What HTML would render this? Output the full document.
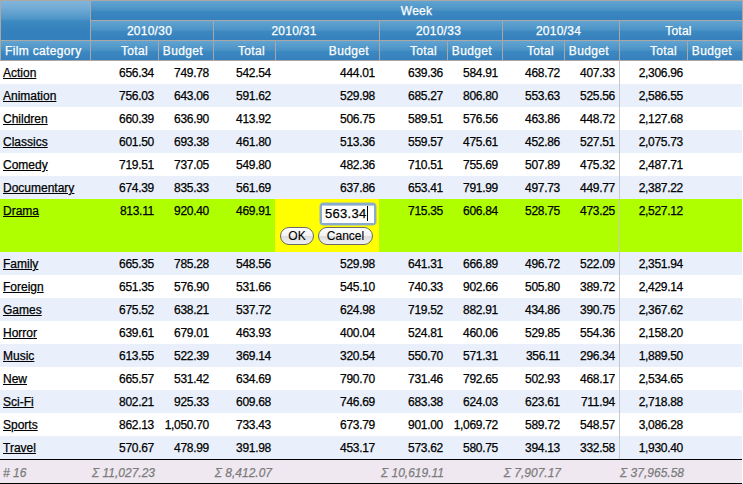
<!DOCTYPE html>
<html><head><meta charset="utf-8">
<style>
html,body{margin:0;padding:0;background:#fff;width:743px;height:484px;overflow:hidden}
body{position:relative;font-family:"Liberation Sans",sans-serif;font-size:12px;color:#000;-webkit-text-stroke:0.25px currentColor}
div{position:absolute;box-sizing:border-box}
.hc{position:absolute;left:5px;right:10px;top:1px;height:19px;line-height:19px;letter-spacing:0.25px;text-align:center;color:#fff}
.hl{position:absolute;left:4px;top:1px;height:19px;line-height:19px;letter-spacing:0.35px;color:#fff}
.hr{position:absolute;right:10px;top:1px;height:19px;line-height:19px;letter-spacing:0.35px;color:#fff;text-align:right}
.lk{position:absolute;left:0;top:1px;line-height:23px;color:#000;text-decoration:underline}
.num{position:absolute;right:4px;top:1px;line-height:23px;letter-spacing:-0.3px;white-space:nowrap}
.ft{position:absolute;left:0;top:2px;line-height:23px;color:#7c7c7c;font-style:italic}
.ftr{position:absolute;right:3px;top:2px;line-height:23px;color:#7c7c7c;font-style:italic;white-space:nowrap;letter-spacing:0px}
.inp{font-size:13px;line-height:18px;color:#000;letter-spacing:0.3px}
.btn{-webkit-text-stroke:0.1px currentColor;border:1px solid #6a6a66;border-radius:9px;background:linear-gradient(#ffffff 0%,#f2f2f2 50%,#dedede 51%,#f0f0f0 100%);font-size:12px;line-height:16px;text-align:center;color:#000}
</style></head><body>
<div style="left:0px;top:0px;width:743px;height:61px;background:#aba7a4"></div>
<div style="left:1px;top:1px;width:89px;height:39px;background:linear-gradient(to bottom,#82b5da 0px,#72abd5 7px,#4e95c8 18px,#3c88c0 20.5px,#3581bd 30px,#3380bc 39px)"></div>
<div style="left:91px;top:1px;width:651px;height:19px;background:linear-gradient(to bottom,#62a4d1 0px,#5a9ecd 3px,#4b93c6 9px,#3c88c0 10.5px,#3580bd 19px)"><span class='hc' style='left:0;right:0'>Week</span></div>
<div style="left:91px;top:21px;width:122px;height:19px;background:linear-gradient(to bottom,#62a4d1 0px,#5a9ecd 3px,#4b93c6 9px,#3c88c0 10.5px,#3580bd 19px)"><span class='hc'>2010/30</span></div>
<div style="left:214px;top:21px;width:165px;height:19px;background:linear-gradient(to bottom,#62a4d1 0px,#5a9ecd 3px,#4b93c6 9px,#3c88c0 10.5px,#3580bd 19px)"><span class='hc'>2010/31</span></div>
<div style="left:380px;top:21px;width:122px;height:19px;background:linear-gradient(to bottom,#62a4d1 0px,#5a9ecd 3px,#4b93c6 9px,#3c88c0 10.5px,#3580bd 19px)"><span class='hc'>2010/33</span></div>
<div style="left:503px;top:21px;width:116px;height:19px;background:linear-gradient(to bottom,#62a4d1 0px,#5a9ecd 3px,#4b93c6 9px,#3c88c0 10.5px,#3580bd 19px)"><span class='hc'>2010/34</span></div>
<div style="left:620px;top:21px;width:122px;height:19px;background:linear-gradient(to bottom,#62a4d1 0px,#5a9ecd 3px,#4b93c6 9px,#3c88c0 10.5px,#3580bd 19px)"><span class='hc'>Total</span></div>
<div style="left:1px;top:41px;width:89px;height:19px;background:linear-gradient(to bottom,#62a4d1 0px,#5a9ecd 3px,#4b93c6 9px,#3c88c0 10.5px,#3580bd 19px)"><span class='hl'>Film category</span></div>
<div style="left:91px;top:41px;width:67px;height:19px;background:linear-gradient(to bottom,#62a4d1 0px,#5a9ecd 3px,#4b93c6 9px,#3c88c0 10.5px,#3580bd 19px)"><span class='hr'>Total</span></div>
<div style="left:159px;top:41px;width:54px;height:19px;background:linear-gradient(to bottom,#62a4d1 0px,#5a9ecd 3px,#4b93c6 9px,#3c88c0 10.5px,#3580bd 19px)"><span class='hr'>Budget</span></div>
<div style="left:214px;top:41px;width:61px;height:19px;background:linear-gradient(to bottom,#62a4d1 0px,#5a9ecd 3px,#4b93c6 9px,#3c88c0 10.5px,#3580bd 19px)"><span class='hr'>Total</span></div>
<div style="left:276px;top:41px;width:103px;height:19px;background:linear-gradient(to bottom,#62a4d1 0px,#5a9ecd 3px,#4b93c6 9px,#3c88c0 10.5px,#3580bd 19px)"><span class='hr'>Budget</span></div>
<div style="left:380px;top:41px;width:67px;height:19px;background:linear-gradient(to bottom,#62a4d1 0px,#5a9ecd 3px,#4b93c6 9px,#3c88c0 10.5px,#3580bd 19px)"><span class='hr'>Total</span></div>
<div style="left:448px;top:41px;width:54px;height:19px;background:linear-gradient(to bottom,#62a4d1 0px,#5a9ecd 3px,#4b93c6 9px,#3c88c0 10.5px,#3580bd 19px)"><span class='hr'>Budget</span></div>
<div style="left:503px;top:41px;width:61px;height:19px;background:linear-gradient(to bottom,#62a4d1 0px,#5a9ecd 3px,#4b93c6 9px,#3c88c0 10.5px,#3580bd 19px)"><span class='hr'>Total</span></div>
<div style="left:565px;top:41px;width:54px;height:19px;background:linear-gradient(to bottom,#62a4d1 0px,#5a9ecd 3px,#4b93c6 9px,#3c88c0 10.5px,#3580bd 19px)"><span class='hr'>Budget</span></div>
<div style="left:620px;top:41px;width:67px;height:19px;background:linear-gradient(to bottom,#62a4d1 0px,#5a9ecd 3px,#4b93c6 9px,#3c88c0 10.5px,#3580bd 19px)"><span class='hr'>Total</span></div>
<div style="left:688px;top:41px;width:54px;height:19px;background:linear-gradient(to bottom,#62a4d1 0px,#5a9ecd 3px,#4b93c6 9px,#3c88c0 10.5px,#3580bd 19px)"><span class='hr'>Budget</span></div>
<div style="left:0px;top:61px;width:742px;height:23px;background:#ffffff"></div>
<div style="left:619px;top:61px;width:1px;height:23px;background:#c8c8c8"></div>
<div style="left:3px;top:61px;width:86px;height:23px;"><a class='lk'>Action</a></div>
<div style="left:91px;top:61px;width:67px;height:23px;"><span class='num'>656.34</span></div>
<div style="left:159px;top:61px;width:54px;height:23px;"><span class='num'>749.78</span></div>
<div style="left:214px;top:61px;width:61px;height:23px;"><span class='num'>542.54</span></div>
<div style="left:276px;top:61px;width:103px;height:23px;"><span class='num'>444.01</span></div>
<div style="left:380px;top:61px;width:67px;height:23px;"><span class='num'>639.36</span></div>
<div style="left:448px;top:61px;width:54px;height:23px;"><span class='num'>584.91</span></div>
<div style="left:503px;top:61px;width:61px;height:23px;"><span class='num'>468.72</span></div>
<div style="left:565px;top:61px;width:54px;height:23px;"><span class='num'>407.33</span></div>
<div style="left:620px;top:61px;width:67px;height:23px;"><span class='num'>2,306.96</span></div>
<div style="left:0px;top:84px;width:742px;height:23px;background:#e9f0fb"></div>
<div style="left:619px;top:84px;width:1px;height:23px;background:#c8c8c8"></div>
<div style="left:3px;top:84px;width:86px;height:23px;"><a class='lk'>Animation</a></div>
<div style="left:91px;top:84px;width:67px;height:23px;"><span class='num'>756.03</span></div>
<div style="left:159px;top:84px;width:54px;height:23px;"><span class='num'>643.06</span></div>
<div style="left:214px;top:84px;width:61px;height:23px;"><span class='num'>591.62</span></div>
<div style="left:276px;top:84px;width:103px;height:23px;"><span class='num'>529.98</span></div>
<div style="left:380px;top:84px;width:67px;height:23px;"><span class='num'>685.27</span></div>
<div style="left:448px;top:84px;width:54px;height:23px;"><span class='num'>806.80</span></div>
<div style="left:503px;top:84px;width:61px;height:23px;"><span class='num'>553.63</span></div>
<div style="left:565px;top:84px;width:54px;height:23px;"><span class='num'>525.56</span></div>
<div style="left:620px;top:84px;width:67px;height:23px;"><span class='num'>2,586.55</span></div>
<div style="left:0px;top:107px;width:742px;height:23px;background:#ffffff"></div>
<div style="left:619px;top:107px;width:1px;height:23px;background:#c8c8c8"></div>
<div style="left:3px;top:107px;width:86px;height:23px;"><a class='lk'>Children</a></div>
<div style="left:91px;top:107px;width:67px;height:23px;"><span class='num'>660.39</span></div>
<div style="left:159px;top:107px;width:54px;height:23px;"><span class='num'>636.90</span></div>
<div style="left:214px;top:107px;width:61px;height:23px;"><span class='num'>413.92</span></div>
<div style="left:276px;top:107px;width:103px;height:23px;"><span class='num'>506.75</span></div>
<div style="left:380px;top:107px;width:67px;height:23px;"><span class='num'>589.51</span></div>
<div style="left:448px;top:107px;width:54px;height:23px;"><span class='num'>576.56</span></div>
<div style="left:503px;top:107px;width:61px;height:23px;"><span class='num'>463.86</span></div>
<div style="left:565px;top:107px;width:54px;height:23px;"><span class='num'>448.72</span></div>
<div style="left:620px;top:107px;width:67px;height:23px;"><span class='num'>2,127.68</span></div>
<div style="left:0px;top:130px;width:742px;height:23px;background:#e9f0fb"></div>
<div style="left:619px;top:130px;width:1px;height:23px;background:#c8c8c8"></div>
<div style="left:3px;top:130px;width:86px;height:23px;"><a class='lk'>Classics</a></div>
<div style="left:91px;top:130px;width:67px;height:23px;"><span class='num'>601.50</span></div>
<div style="left:159px;top:130px;width:54px;height:23px;"><span class='num'>693.38</span></div>
<div style="left:214px;top:130px;width:61px;height:23px;"><span class='num'>461.80</span></div>
<div style="left:276px;top:130px;width:103px;height:23px;"><span class='num'>513.36</span></div>
<div style="left:380px;top:130px;width:67px;height:23px;"><span class='num'>559.57</span></div>
<div style="left:448px;top:130px;width:54px;height:23px;"><span class='num'>475.61</span></div>
<div style="left:503px;top:130px;width:61px;height:23px;"><span class='num'>452.86</span></div>
<div style="left:565px;top:130px;width:54px;height:23px;"><span class='num'>527.51</span></div>
<div style="left:620px;top:130px;width:67px;height:23px;"><span class='num'>2,075.73</span></div>
<div style="left:0px;top:153px;width:742px;height:23px;background:#ffffff"></div>
<div style="left:619px;top:153px;width:1px;height:23px;background:#c8c8c8"></div>
<div style="left:3px;top:153px;width:86px;height:23px;"><a class='lk'>Comedy</a></div>
<div style="left:91px;top:153px;width:67px;height:23px;"><span class='num'>719.51</span></div>
<div style="left:159px;top:153px;width:54px;height:23px;"><span class='num'>737.05</span></div>
<div style="left:214px;top:153px;width:61px;height:23px;"><span class='num'>549.80</span></div>
<div style="left:276px;top:153px;width:103px;height:23px;"><span class='num'>482.36</span></div>
<div style="left:380px;top:153px;width:67px;height:23px;"><span class='num'>710.51</span></div>
<div style="left:448px;top:153px;width:54px;height:23px;"><span class='num'>755.69</span></div>
<div style="left:503px;top:153px;width:61px;height:23px;"><span class='num'>507.89</span></div>
<div style="left:565px;top:153px;width:54px;height:23px;"><span class='num'>475.32</span></div>
<div style="left:620px;top:153px;width:67px;height:23px;"><span class='num'>2,487.71</span></div>
<div style="left:0px;top:176px;width:742px;height:23px;background:#e9f0fb"></div>
<div style="left:619px;top:176px;width:1px;height:23px;background:#c8c8c8"></div>
<div style="left:3px;top:176px;width:86px;height:23px;"><a class='lk'>Documentary</a></div>
<div style="left:91px;top:176px;width:67px;height:23px;"><span class='num'>674.39</span></div>
<div style="left:159px;top:176px;width:54px;height:23px;"><span class='num'>835.33</span></div>
<div style="left:214px;top:176px;width:61px;height:23px;"><span class='num'>561.69</span></div>
<div style="left:276px;top:176px;width:103px;height:23px;"><span class='num'>637.86</span></div>
<div style="left:380px;top:176px;width:67px;height:23px;"><span class='num'>653.41</span></div>
<div style="left:448px;top:176px;width:54px;height:23px;"><span class='num'>791.99</span></div>
<div style="left:503px;top:176px;width:61px;height:23px;"><span class='num'>497.73</span></div>
<div style="left:565px;top:176px;width:54px;height:23px;"><span class='num'>449.77</span></div>
<div style="left:620px;top:176px;width:67px;height:23px;"><span class='num'>2,387.22</span></div>
<div style="left:0px;top:199px;width:742px;height:53px;background:#b0ff00"></div>
<div style="left:275px;top:199px;width:104px;height:53px;background:#ffff00"></div>
<div style="left:619px;top:199px;width:1px;height:53px;background:#c8c8c8"></div>
<div style="left:3px;top:199px;width:86px;height:23px;"><a class='lk'>Drama</a></div>
<div style="left:91px;top:199px;width:67px;height:23px;"><span class='num'>813.11</span></div>
<div style="left:159px;top:199px;width:54px;height:23px;"><span class='num'>920.40</span></div>
<div style="left:214px;top:199px;width:61px;height:23px;"><span class='num'>469.91</span></div>
<div style="left:380px;top:199px;width:67px;height:23px;"><span class='num'>715.35</span></div>
<div style="left:448px;top:199px;width:54px;height:23px;"><span class='num'>606.84</span></div>
<div style="left:503px;top:199px;width:61px;height:23px;"><span class='num'>528.75</span></div>
<div style="left:565px;top:199px;width:54px;height:23px;"><span class='num'>473.25</span></div>
<div style="left:620px;top:199px;width:67px;height:23px;"><span class='num'>2,527.12</span></div>
<div style="left:0px;top:252px;width:742px;height:23px;background:#e9f0fb"></div>
<div style="left:619px;top:252px;width:1px;height:23px;background:#c8c8c8"></div>
<div style="left:3px;top:252px;width:86px;height:23px;"><a class='lk'>Family</a></div>
<div style="left:91px;top:252px;width:67px;height:23px;"><span class='num'>665.35</span></div>
<div style="left:159px;top:252px;width:54px;height:23px;"><span class='num'>785.28</span></div>
<div style="left:214px;top:252px;width:61px;height:23px;"><span class='num'>548.56</span></div>
<div style="left:276px;top:252px;width:103px;height:23px;"><span class='num'>529.98</span></div>
<div style="left:380px;top:252px;width:67px;height:23px;"><span class='num'>641.31</span></div>
<div style="left:448px;top:252px;width:54px;height:23px;"><span class='num'>666.89</span></div>
<div style="left:503px;top:252px;width:61px;height:23px;"><span class='num'>496.72</span></div>
<div style="left:565px;top:252px;width:54px;height:23px;"><span class='num'>522.09</span></div>
<div style="left:620px;top:252px;width:67px;height:23px;"><span class='num'>2,351.94</span></div>
<div style="left:0px;top:275px;width:742px;height:23px;background:#ffffff"></div>
<div style="left:619px;top:275px;width:1px;height:23px;background:#c8c8c8"></div>
<div style="left:3px;top:275px;width:86px;height:23px;"><a class='lk'>Foreign</a></div>
<div style="left:91px;top:275px;width:67px;height:23px;"><span class='num'>651.35</span></div>
<div style="left:159px;top:275px;width:54px;height:23px;"><span class='num'>576.90</span></div>
<div style="left:214px;top:275px;width:61px;height:23px;"><span class='num'>531.66</span></div>
<div style="left:276px;top:275px;width:103px;height:23px;"><span class='num'>545.10</span></div>
<div style="left:380px;top:275px;width:67px;height:23px;"><span class='num'>740.33</span></div>
<div style="left:448px;top:275px;width:54px;height:23px;"><span class='num'>902.66</span></div>
<div style="left:503px;top:275px;width:61px;height:23px;"><span class='num'>505.80</span></div>
<div style="left:565px;top:275px;width:54px;height:23px;"><span class='num'>389.72</span></div>
<div style="left:620px;top:275px;width:67px;height:23px;"><span class='num'>2,429.14</span></div>
<div style="left:0px;top:298px;width:742px;height:23px;background:#e9f0fb"></div>
<div style="left:619px;top:298px;width:1px;height:23px;background:#c8c8c8"></div>
<div style="left:3px;top:298px;width:86px;height:23px;"><a class='lk'>Games</a></div>
<div style="left:91px;top:298px;width:67px;height:23px;"><span class='num'>675.52</span></div>
<div style="left:159px;top:298px;width:54px;height:23px;"><span class='num'>638.21</span></div>
<div style="left:214px;top:298px;width:61px;height:23px;"><span class='num'>537.72</span></div>
<div style="left:276px;top:298px;width:103px;height:23px;"><span class='num'>624.98</span></div>
<div style="left:380px;top:298px;width:67px;height:23px;"><span class='num'>719.52</span></div>
<div style="left:448px;top:298px;width:54px;height:23px;"><span class='num'>882.91</span></div>
<div style="left:503px;top:298px;width:61px;height:23px;"><span class='num'>434.86</span></div>
<div style="left:565px;top:298px;width:54px;height:23px;"><span class='num'>390.75</span></div>
<div style="left:620px;top:298px;width:67px;height:23px;"><span class='num'>2,367.62</span></div>
<div style="left:0px;top:321px;width:742px;height:23px;background:#ffffff"></div>
<div style="left:619px;top:321px;width:1px;height:23px;background:#c8c8c8"></div>
<div style="left:3px;top:321px;width:86px;height:23px;"><a class='lk'>Horror</a></div>
<div style="left:91px;top:321px;width:67px;height:23px;"><span class='num'>639.61</span></div>
<div style="left:159px;top:321px;width:54px;height:23px;"><span class='num'>679.01</span></div>
<div style="left:214px;top:321px;width:61px;height:23px;"><span class='num'>463.93</span></div>
<div style="left:276px;top:321px;width:103px;height:23px;"><span class='num'>400.04</span></div>
<div style="left:380px;top:321px;width:67px;height:23px;"><span class='num'>524.81</span></div>
<div style="left:448px;top:321px;width:54px;height:23px;"><span class='num'>460.06</span></div>
<div style="left:503px;top:321px;width:61px;height:23px;"><span class='num'>529.85</span></div>
<div style="left:565px;top:321px;width:54px;height:23px;"><span class='num'>554.36</span></div>
<div style="left:620px;top:321px;width:67px;height:23px;"><span class='num'>2,158.20</span></div>
<div style="left:0px;top:344px;width:742px;height:23px;background:#e9f0fb"></div>
<div style="left:619px;top:344px;width:1px;height:23px;background:#c8c8c8"></div>
<div style="left:3px;top:344px;width:86px;height:23px;"><a class='lk'>Music</a></div>
<div style="left:91px;top:344px;width:67px;height:23px;"><span class='num'>613.55</span></div>
<div style="left:159px;top:344px;width:54px;height:23px;"><span class='num'>522.39</span></div>
<div style="left:214px;top:344px;width:61px;height:23px;"><span class='num'>369.14</span></div>
<div style="left:276px;top:344px;width:103px;height:23px;"><span class='num'>320.54</span></div>
<div style="left:380px;top:344px;width:67px;height:23px;"><span class='num'>550.70</span></div>
<div style="left:448px;top:344px;width:54px;height:23px;"><span class='num'>571.31</span></div>
<div style="left:503px;top:344px;width:61px;height:23px;"><span class='num'>356.11</span></div>
<div style="left:565px;top:344px;width:54px;height:23px;"><span class='num'>296.34</span></div>
<div style="left:620px;top:344px;width:67px;height:23px;"><span class='num'>1,889.50</span></div>
<div style="left:0px;top:367px;width:742px;height:23px;background:#ffffff"></div>
<div style="left:619px;top:367px;width:1px;height:23px;background:#c8c8c8"></div>
<div style="left:3px;top:367px;width:86px;height:23px;"><a class='lk'>New</a></div>
<div style="left:91px;top:367px;width:67px;height:23px;"><span class='num'>665.57</span></div>
<div style="left:159px;top:367px;width:54px;height:23px;"><span class='num'>531.42</span></div>
<div style="left:214px;top:367px;width:61px;height:23px;"><span class='num'>634.69</span></div>
<div style="left:276px;top:367px;width:103px;height:23px;"><span class='num'>790.70</span></div>
<div style="left:380px;top:367px;width:67px;height:23px;"><span class='num'>731.46</span></div>
<div style="left:448px;top:367px;width:54px;height:23px;"><span class='num'>792.65</span></div>
<div style="left:503px;top:367px;width:61px;height:23px;"><span class='num'>502.93</span></div>
<div style="left:565px;top:367px;width:54px;height:23px;"><span class='num'>468.17</span></div>
<div style="left:620px;top:367px;width:67px;height:23px;"><span class='num'>2,534.65</span></div>
<div style="left:0px;top:390px;width:742px;height:23px;background:#e9f0fb"></div>
<div style="left:619px;top:390px;width:1px;height:23px;background:#c8c8c8"></div>
<div style="left:3px;top:390px;width:86px;height:23px;"><a class='lk'>Sci-Fi</a></div>
<div style="left:91px;top:390px;width:67px;height:23px;"><span class='num'>802.21</span></div>
<div style="left:159px;top:390px;width:54px;height:23px;"><span class='num'>925.33</span></div>
<div style="left:214px;top:390px;width:61px;height:23px;"><span class='num'>609.68</span></div>
<div style="left:276px;top:390px;width:103px;height:23px;"><span class='num'>746.69</span></div>
<div style="left:380px;top:390px;width:67px;height:23px;"><span class='num'>683.38</span></div>
<div style="left:448px;top:390px;width:54px;height:23px;"><span class='num'>624.03</span></div>
<div style="left:503px;top:390px;width:61px;height:23px;"><span class='num'>623.61</span></div>
<div style="left:565px;top:390px;width:54px;height:23px;"><span class='num'>711.94</span></div>
<div style="left:620px;top:390px;width:67px;height:23px;"><span class='num'>2,718.88</span></div>
<div style="left:0px;top:413px;width:742px;height:23px;background:#ffffff"></div>
<div style="left:619px;top:413px;width:1px;height:23px;background:#c8c8c8"></div>
<div style="left:3px;top:413px;width:86px;height:23px;"><a class='lk'>Sports</a></div>
<div style="left:91px;top:413px;width:67px;height:23px;"><span class='num'>862.13</span></div>
<div style="left:159px;top:413px;width:54px;height:23px;"><span class='num'>1,050.70</span></div>
<div style="left:214px;top:413px;width:61px;height:23px;"><span class='num'>733.43</span></div>
<div style="left:276px;top:413px;width:103px;height:23px;"><span class='num'>673.79</span></div>
<div style="left:380px;top:413px;width:67px;height:23px;"><span class='num'>901.00</span></div>
<div style="left:448px;top:413px;width:54px;height:23px;"><span class='num'>1,069.72</span></div>
<div style="left:503px;top:413px;width:61px;height:23px;"><span class='num'>589.72</span></div>
<div style="left:565px;top:413px;width:54px;height:23px;"><span class='num'>548.57</span></div>
<div style="left:620px;top:413px;width:67px;height:23px;"><span class='num'>3,086.28</span></div>
<div style="left:0px;top:436px;width:742px;height:23px;background:#e9f0fb"></div>
<div style="left:619px;top:436px;width:1px;height:23px;background:#c8c8c8"></div>
<div style="left:3px;top:436px;width:86px;height:23px;"><a class='lk'>Travel</a></div>
<div style="left:91px;top:436px;width:67px;height:23px;"><span class='num'>570.67</span></div>
<div style="left:159px;top:436px;width:54px;height:23px;"><span class='num'>478.99</span></div>
<div style="left:214px;top:436px;width:61px;height:23px;"><span class='num'>391.98</span></div>
<div style="left:276px;top:436px;width:103px;height:23px;"><span class='num'>453.17</span></div>
<div style="left:380px;top:436px;width:67px;height:23px;"><span class='num'>573.62</span></div>
<div style="left:448px;top:436px;width:54px;height:23px;"><span class='num'>580.75</span></div>
<div style="left:503px;top:436px;width:61px;height:23px;"><span class='num'>394.13</span></div>
<div style="left:565px;top:436px;width:54px;height:23px;"><span class='num'>332.58</span></div>
<div style="left:620px;top:436px;width:67px;height:23px;"><span class='num'>1,930.40</span></div>
<div style="left:0px;top:459px;width:742px;height:1px;background:#000"></div>
<div style="left:0px;top:460px;width:742px;height:23px;background:#efe8f0"></div>
<div style="left:0px;top:483px;width:742px;height:1px;background:#000"></div>
<div style="left:3px;top:460px;width:80px;height:23px;"><span class='ft'># 16</span></div>
<div style="left:30px;top:460px;width:128px;height:23px;"><span class='ftr'>Σ 11,027.23</span></div>
<div style="left:153px;top:460px;width:122px;height:23px;"><span class='ftr'>Σ 8,412.07</span></div>
<div style="left:319px;top:460px;width:128px;height:23px;"><span class='ftr'>Σ 10,619.11</span></div>
<div style="left:442px;top:460px;width:122px;height:23px;"><span class='ftr'>Σ 7,907.17</span></div>
<div style="left:559px;top:460px;width:128px;height:23px;"><span class='ftr'>Σ 37,965.58</span></div>

<div style="left:319px;top:202px;width:58px;height:24px;border-radius:5px;background:rgba(135,170,210,0.45)"></div>
<div style="left:320px;top:203px;width:56px;height:22px;border-radius:3px;background:#89abcf"></div>
<div style="left:322px;top:205px;width:52px;height:18px;background:#fff;box-shadow:inset 0 1px 0 #b8c8d8"></div>
<div class="inp" style="left:325px;top:205px;width:48px;height:18px">563.34</div>
<div style="left:367px;top:206px;width:1px;height:15px;background:#000"></div>
<div class="btn" style="left:280px;top:227px;width:34px;height:18px">OK</div>
<div class="btn" style="left:318px;top:227px;width:55px;height:18px">Cancel</div>

</body></html>
